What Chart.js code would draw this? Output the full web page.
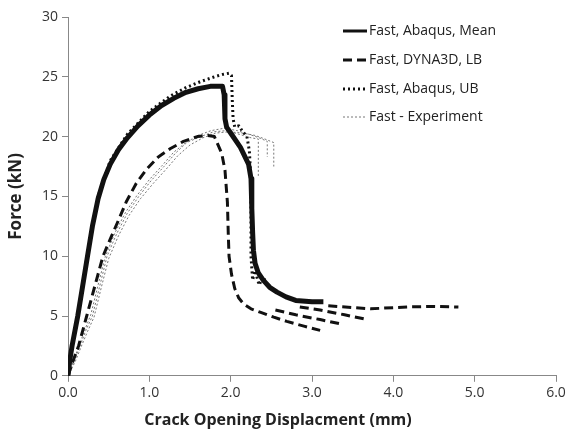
<!DOCTYPE html>
<html>
<head>
<meta charset="utf-8">
<script src="https://cdn.jsdelivr.net/npm/chart.js@4"></script>
<style>
  html, body { margin: 0; padding: 0; background: #fff; }
  #wrap { width: 569px; height: 432px; }
</style>
</head>
<body>
<div id="wrap"><canvas id="cod"></canvas></div>
<script>
// values (x = COD in mm, F = force in kN)
const meanX = [0, 0.02, 0.05, 0.12, 0.18, 0.24, 0.30, 0.37, 0.44, 0.52, 0.62, 0.73, 0.86, 1.00, 1.15, 1.30, 1.45, 1.60, 1.75, 1.90, 1.92, 1.93, 1.95, 2.00, 2.12, 2.22, 2.25, 2.26, 2.27, 2.28, 2.30, 2.34, 2.40, 2.48, 2.57, 2.68, 2.80, 3.00, 3.14];
const meanF = [0, 1.2, 2.5, 5, 7.5, 10, 12.5, 14.8, 16.4, 17.7, 18.9, 19.9, 20.9, 21.8, 22.6, 23.2, 23.7, 24.0, 24.2, 24.2, 23.5, 21.5, 20.8, 20.3, 19.1, 17.7, 16.5, 14, 12, 10.5, 9.4, 8.6, 8.0, 7.4, 7.0, 6.6, 6.3, 6.2, 6.2];

const lbX = [0, 0.06, 0.13, 0.23, 0.33, 0.43, 0.53, 0.62, 0.72, 0.84, 0.97, 1.11, 1.26, 1.42, 1.59, 1.72, 1.80, 1.89, 1.93, 1.96, 1.97, 1.98, 2.01, 2.05, 2.10, 2.16, 2.25, 2.37, 2.53, 2.69, 2.90, 3.10];
const lbF = [0, 1.2, 2.5, 5, 7.5, 10, 11.6, 13, 14.6, 16.1, 17.3, 18.3, 19.0, 19.6, 20.0, 20.1, 20.0, 18.6, 17.2, 14.5, 12, 10, 8.5, 7.3, 6.5, 6.0, 5.6, 5.3, 4.9, 4.55, 4.15, 3.8];
// later unloading branches of the LB curve
const lbB1X = [2.55, 2.80, 3.10, 3.38];
const lbB1F = [5.5, 5.1, 4.7, 4.3];
const lbB2X = [2.85, 3.10, 3.40, 3.68];
const lbB2F = [5.75, 5.5, 5.1, 4.7];
const lbB3X = [3.20, 3.50, 3.72, 4.00, 4.21, 4.50, 4.80];
const lbB3F = [5.85, 5.7, 5.6, 5.7, 5.77, 5.8, 5.75];

const ubX = [0, 0.05, 0.12, 0.24, 0.37, 0.52, 0.73, 1.00, 1.26, 1.45, 1.63, 1.80, 1.90, 1.98, 2.01, 2.02, 2.03, 2.05, 2.10, 2.15, 2.20, 2.23, 2.24, 2.25, 2.25, 2.27, 2.30, 2.35, 2.40, 2.45];
const ubF = [0, 2.6, 5.1, 10.2, 15.0, 18.0, 20.2, 22.1, 23.4, 24.1, 24.6, 25.0, 25.2, 25.3, 25.1, 23, 21.5, 20.8, 20.9, 20.4, 20.0, 18.8, 17.5, 14, 10, 8.0, 8.8, 7.6, 8.3, 7.5];

const exp1X = [0, 0.08, 0.15, 0.22, 0.30, 0.39, 0.48, 0.60, 0.73, 0.87, 1.02, 1.18, 1.32, 1.46, 1.63, 1.79, 1.95, 2.10, 2.25, 2.34, 2.34];
const exp1F = [0, 1.3, 2.5, 3.8, 5, 7.5, 10, 11.9, 13.6, 15, 16.3, 17.5, 18.6, 19.5, 20.0, 20.4, 20.5, 20.2, 19.9, 19.8, 16.6];
const exp2X = [0, 0.07, 0.14, 0.21, 0.28, 0.37, 0.46, 0.58, 0.71, 0.85, 1.00, 1.16, 1.30, 1.45, 1.60, 1.76, 1.92, 2.08, 2.22, 2.35, 2.45, 2.45];
const exp2F = [0, 1.3, 2.6, 3.9, 5.1, 7.6, 10, 12.0, 13.7, 15.1, 16.4, 17.6, 18.7, 19.5, 20.1, 20.5, 20.7, 20.5, 20.2, 19.9, 19.6, 18.3];
const exp3X = [0, 0.09, 0.16, 0.24, 0.32, 0.41, 0.50, 0.62, 0.75, 0.89, 1.05, 1.21, 1.35, 1.50, 1.66, 1.82, 1.98, 2.14, 2.30, 2.42, 2.53, 2.53];
const exp3F = [0, 1.2, 2.4, 3.7, 4.9, 7.4, 9.8, 11.7, 13.4, 14.8, 16.1, 17.3, 18.4, 19.3, 19.9, 20.3, 20.4, 20.3, 20.1, 19.8, 19.5, 17.5];

const legendNames = ['Fast, Abaqus, Mean', 'Fast, DYNA3D, LB', 'Fast, Abaqus, UB', 'Fast - Experiment'];

function pts(xs, ys) {
  return xs.map((x, i) => ({ x: x, y: ys[i] }));
}

const solid = { borderColor: '#111', borderWidth: 5, borderDash: [] };
const dashed = { borderColor: '#111', borderWidth: 3, borderDash: [9, 5] };
const dotted = { borderColor: '#111', borderWidth: 3, borderDash: [2, 3] };
const thin = { borderColor: '#777', borderWidth: 1, borderDash: [2, 2] };

function line(label, xs, ys, style, order) {
  return Object.assign({
    label: label,
    data: pts(xs, ys),
    showLine: true,
    pointRadius: 0,
    tension: 0,
    fill: false,
    borderJoinStyle: 'round',
    order: order
  }, style);
}

// draws the legend inside the plot, top right
const insideLegend = {
  id: 'insideLegend',
  afterDraw(chart) {
    const ctx = chart.ctx;
    const styles = [solid, dashed, dotted, thin];
    const rows = [31, 60, 89, 117];
    ctx.save();
    styles.forEach((s, i) => {
      ctx.beginPath();
      ctx.strokeStyle = s.borderColor;
      ctx.lineWidth = s === solid ? 3 : s.borderWidth;
      ctx.setLineDash(s.borderDash);
      ctx.moveTo(343, rows[i]);
      ctx.lineTo(367, rows[i]);
      ctx.stroke();
      ctx.setLineDash([]);
      ctx.fillStyle = '#222';
      ctx.font = '14px "Open Sans"';
      ctx.textBaseline = 'middle';
      ctx.fillText(legendNames[i], 369, rows[i]);
    });
    ctx.restore();
  }
};

new Chart(document.getElementById('cod'), {
  type: 'scatter',
  data: {
    datasets: [
      line('Fast - Experiment', exp1X, exp1F, thin, 5),
      line('Fast - Experiment 2', exp2X, exp2F, thin, 5),
      line('Fast - Experiment 3', exp3X, exp3F, thin, 5),
      line('Fast, DYNA3D, LB', lbX, lbF, dashed, 3),
      line('LB b1', lbB1X, lbB1F, dashed, 3),
      line('LB b2', lbB2X, lbB2F, dashed, 3),
      line('LB b3', lbB3X, lbB3F, dashed, 3),
      line('Fast, Abaqus, UB', ubX, ubF, dotted, 2),
      line('Fast, Abaqus, Mean', meanX, meanF, solid, 1)
    ]
  },
  options: {
    responsive: true,
    maintainAspectRatio: false,
    animation: false,
    layout: { padding: { top: 17, right: 13, bottom: 0, left: 0 } },
    scales: {
      x: {
        type: 'linear',
        min: 0,
        max: 6,
        afterFit: function(scale) { scale.height = 35; },
        border: { color: '#888', width: 1 },
        grid: { drawOnChartArea: false, drawTicks: true, tickLength: 6, color: '#888' },
        ticks: {
          stepSize: 1,
          padding: 3,
          color: '#333',
          font: { family: 'Open Sans', size: 14 },
          callback: v => v.toFixed(1)
        }
      },
      y: {
        min: 0,
        max: 30,
        afterFit: function(scale) { scale.width = 68; },
        border: { color: '#888', width: 1 },
        grid: { drawOnChartArea: false, drawTicks: true, tickLength: 6, color: '#888' },
        ticks: {
          stepSize: 5,
          padding: 4,
          color: '#333',
          font: { family: 'Open Sans', size: 14 }
        },
        title: {
          display: true,
          text: 'Force (kN)',
          color: '#222',
          font: { family: 'Open Sans', size: 17, weight: 'bold' },
          padding: { top: 6, bottom: 0 }
        }
      }
    },
    plugins: {
      legend: { display: false },
      tooltip: { enabled: false },
      title: {
        display: true,
        position: 'bottom',
        text: 'Crack Opening Displacment (mm)',
        color: '#222',
        font: { family: 'Open Sans', size: 16, weight: 'bold' },
        padding: { top: 0, bottom: 2 }
      }
    }
  },
  plugins: [insideLegend]
});
</script>
</body>
</html>
